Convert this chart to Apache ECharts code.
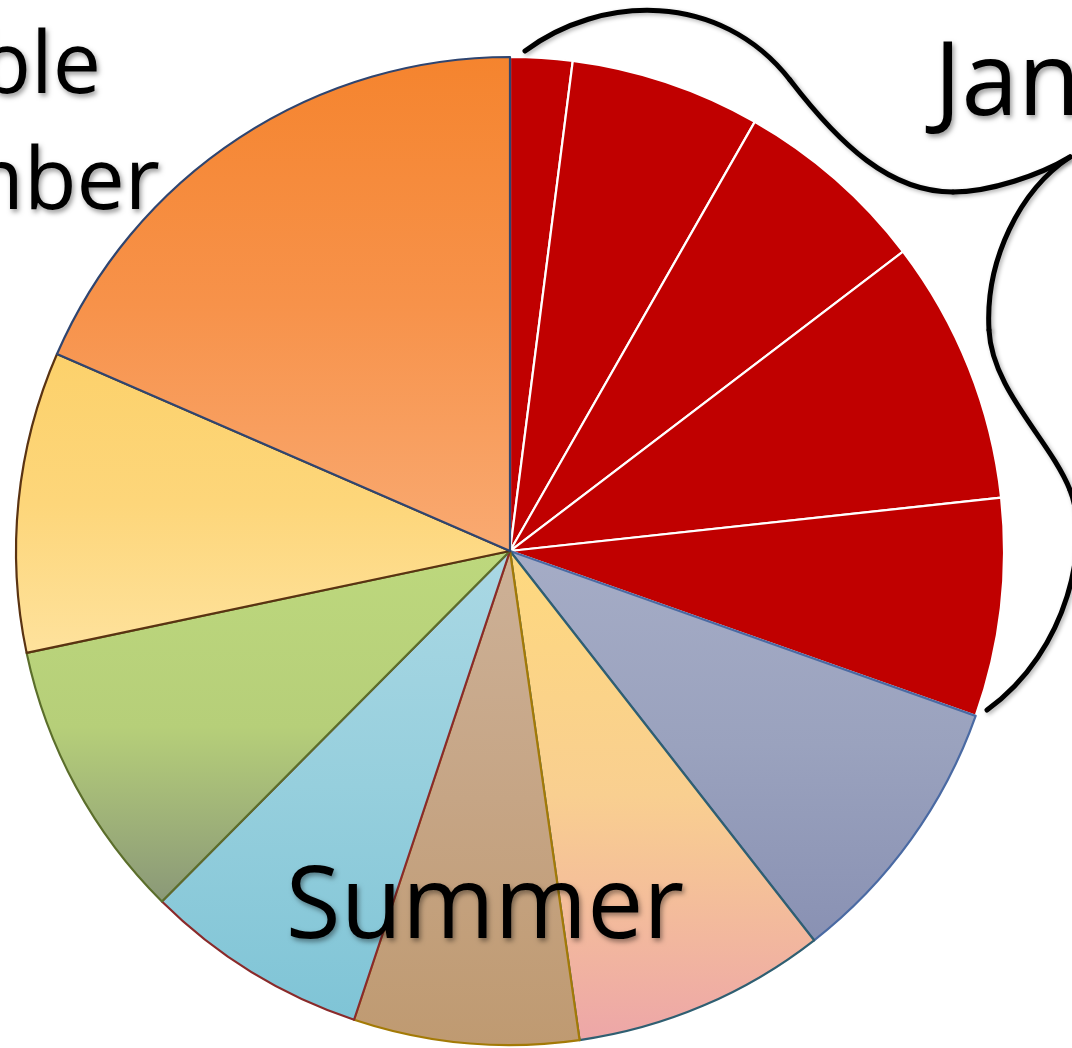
<!DOCTYPE html>
<html>
<head>
<meta charset="utf-8">
<title>Year pie</title>
<script src="https://cdn.jsdelivr.net/npm/echarts@6/dist/echarts.min.js"></script>
<style>
  html, body { margin: 0; padding: 0; background: #ffffff; }
  #chart { width: 1072px; height: 1048px; }
</style>
</head>
<body>
<div id="chart"></div>
<script>
// Slice values (clockwise from 12 o'clock), in degrees of the full circle
const sliceNames = ['Segment 1', 'Segment 2', 'Segment 3', 'Segment 4', 'Segment 5', 'Segment 6',
                    'Segment 7', 'Segment 8', 'Segment 9', 'Segment 10', 'Segment 11', 'Segment 12'];
const sliceValues = [7.3, 22.4, 23.0, 31.1, 25.7, 32.5, 29.9, 26.5, 26.4, 33.3, 35.4, 66.5];

// Annotation texts
const braceLabel = 'January';
const bottomLabel = 'Summer';
const sideLabelLines = ['Variable', 'number'];

// Fill gradient (top -> bottom) and outline per slice
const topColors = ['#c00000', '#c00000', '#c00000', '#c00000', '#c00000', '#a5acc6',
                   '#fed97e', '#cdb197', '#aad8e4', '#bdd87d', '#fcd16b', '#f5842e'];
const midColors = ['#c00000', '#c00000', '#c00000', '#c00000', '#c00000', '#9aa2be',
                   '#f9cf90', '#c6a585', '#96cfdd', '#b6cf79', '#fdd67a', '#f7924a'];
const bottomColors = ['#c00000', '#c00000', '#c00000', '#c00000', '#c00000', '#8991b3',
                      '#eda6a8', '#bf9a71', '#7fc4d6', '#8a9878', '#fee29d', '#f9aa72'];
const borderColors = ['#ffffff', '#ffffff', '#ffffff', '#ffffff', '#ffffff', '#4a6aa3',
                      '#2f5f72', '#a37a06', '#8a2a2a', '#5b6e2b', '#5a3312', '#2f4570'];

// Curly brace, as a chain of cubic segments [x1, y1, cpx1, cpy1, cpx2, cpy2, x2, y2]
const braceSegments = [
  [525, 51, 600, -5, 720, -10, 790, 80],
  [790, 80, 840, 145, 890, 192, 953, 192],
  [953, 192, 990, 192, 1040, 175, 1070, 157],
  [1070, 157, 1020, 190, 985, 260, 989, 330],
  [989, 330, 992, 390, 1050, 440, 1070, 490],
  [1070, 490, 1090, 540, 1070, 650, 987, 710]
];

const chart = echarts.init(document.getElementById('chart'), null, { renderer: 'canvas' });

const pieData = sliceValues.map(function (v, i) {
  return {
    name: sliceNames[i],
    value: v,
    itemStyle: {
      color: {
        type: 'linear', x: 0, y: 0, x2: 0, y2: 1,
        colorStops: [
          { offset: 0, color: topColors[i] },
          { offset: 0.5, color: midColors[i] },
          { offset: 1, color: bottomColors[i] }
        ]
      },
      borderColor: borderColors[i],
      borderWidth: 2.2
    }
  };
});

const textShadow = {
  textShadowColor: 'rgba(0,0,0,0.4)',
  textShadowBlur: 5,
  textShadowOffsetX: 2,
  textShadowOffsetY: 3
};

const braceElements = braceSegments.map(function (s) {
  return {
    type: 'bezierCurve',
    z: 100,
    shape: { x1: s[0], y1: s[1], cpx1: s[2], cpy1: s[3], cpx2: s[4], cpy2: s[5], x2: s[6], y2: s[7] },
    style: {
      fill: null,
      stroke: '#000000',
      lineWidth: 5,
      lineCap: 'round',
      shadowColor: 'rgba(0,0,0,0.3)',
      shadowBlur: 4,
      shadowOffsetX: 2,
      shadowOffsetY: 2
    }
  };
});

const textElements = [
  {
    type: 'text',
    z: 101,
    x: 934,
    y: 86,
    style: Object.assign({
      text: braceLabel,
      font: '102px "Open Sans"',
      fill: '#000000',
      align: 'left',
      verticalAlign: 'middle'
    }, textShadow)
  },
  {
    type: 'text',
    z: 101,
    x: 485,
    y: 910,
    style: Object.assign({
      text: bottomLabel,
      font: '100px "Open Sans"',
      fill: '#000000',
      align: 'center',
      verticalAlign: 'middle'
    }, textShadow)
  },
  {
    type: 'text',
    z: 101,
    x: 101,
    y: 68,
    style: Object.assign({
      text: sideLabelLines[0],
      font: '86px "Open Sans"',
      fill: '#000000',
      align: 'right',
      verticalAlign: 'middle'
    }, textShadow)
  },
  {
    type: 'text',
    z: 101,
    x: 160,
    y: 184,
    style: Object.assign({
      text: sideLabelLines[1],
      font: '86px "Open Sans"',
      fill: '#000000',
      align: 'right',
      verticalAlign: 'middle'
    }, textShadow)
  }
];

chart.setOption({
  animation: false,
  backgroundColor: '#ffffff',
  series: [{
    type: 'pie',
    center: [510, 551],
    radius: [0, 494],
    startAngle: 90,
    clockwise: true,
    silent: true,
    label: { show: false },
    labelLine: { show: false },
    emphasis: { disabled: true },
    data: pieData
  }],
  graphic: braceElements.concat(textElements)
});
</script>
</body>
</html>
